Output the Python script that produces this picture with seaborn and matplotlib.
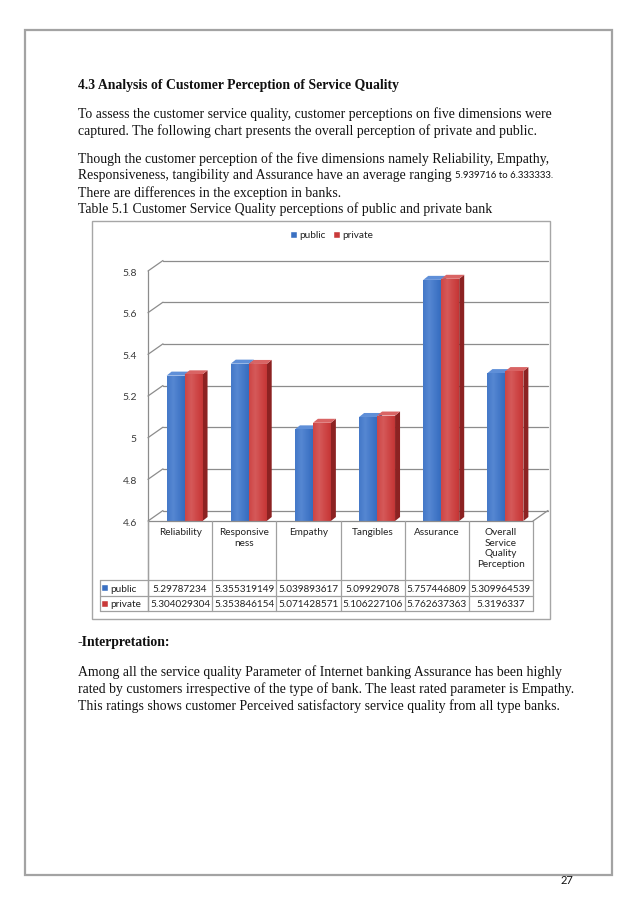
import numpy as np
import pandas as pd
import seaborn as sns
import matplotlib
matplotlib.use("Agg")
import matplotlib.pyplot as plt
from matplotlib.patches import Rectangle, Polygon
from matplotlib.lines import Line2D
from matplotlib.transforms import offset_copy, IdentityTransform

# ---------------- data ----------------
categories = ["Reliability", "Responsiveness", "Empathy", "Tangibles", "Assurance",
              "Overall Service Quality Perception"]
header_labels = ["Reliability", "Responsive\nness", "Empathy", "Tangibles", "Assurance",
                 "Overall\nService\nQuality\nPerception"]
public = [5.29787234, 5.355319149, 5.039893617, 5.09929078, 5.757446809, 5.309964539]
private = [5.304029304, 5.353846154, 5.071428571, 5.106227106, 5.762637363, 5.3196337]
series = ["public", "private"]
yticks = [4.6, 4.8, 5.0, 5.2, 5.4, 5.6, 5.8]
ytick_labels = ["4.6", "4.8", "5", "5.2", "5.4", "5.6", "5.8"]

heading = "4.3 Analysis of Customer Perception of Service Quality"
para1 = ["To assess the customer service quality, customer perceptions on five dimensions were",
         "captured. The following chart presents the overall perception of private and public."]
para2 = ["Though the customer perception of the five dimensions namely Reliability, Empathy,",
         "Responsiveness, tangibility and Assurance have an average ranging ",
         "There are differences in the exception in banks.",
         "Table 5.1 Customer Service Quality perceptions of public and private bank"]
range_text = "5.939716 to 6.333333."
interp_title = "-Interpretation:"
interp = ["Among all the service quality Parameter of Internet banking Assurance has been highly",
          "rated by customers irrespective of the type of bank. The least rated parameter is Empathy.",
          "This ratings shows customer Perceived satisfactory service quality from all type banks."]
page_no = "27"

df = pd.DataFrame({
    "category": categories * 2,
    "bank": ["public"] * 6 + ["private"] * 6,
    "value": public + private,
})

# ---------------- figure ----------------
W, H = 638, 903
sns.set_theme(style="white")
plt.rcParams['font.family'] = ['DejaVu Sans']
fig = plt.figure(figsize=(W / 100, H / 100), dpi=100)
fig.patch.set_facecolor("white")
renderer = fig.canvas.get_renderer()

def fx(x): return x / W
def fy(y): return 1 - y / H

def fline(xs, ys, color="#a0a0a0", lw=0.9, z=5):
    fig.add_artist(Line2D([fx(x) for x in xs], [fy(y) for y in ys],
                          transform=fig.transFigure, color=color, lw=lw, zorder=z))

BODY = "Liberation Serif"
SANS = "Lato"
TXT = "#111111"

# fit body size so the first line spans the measured width
t = fig.text(0, 0, para1[0], family=BODY, fontsize=10)
wid = t.get_window_extent(renderer).width
t.remove()
bfs = 10 * 472 / wid

def body(x, y, s, bold=False, fs=None, family=BODY):
    return fig.text(fx(x), fy(y), s, family=family, fontsize=fs or bfs,
                    fontweight="bold" if bold else "normal", color=TXT,
                    ha="left", va="center")

# page border
fig.add_artist(Rectangle((fx(25), fy(876)), fx(612) - fx(25), fy(31) - fy(876),
                         transform=fig.transFigure, fill=False, edgecolor="#a3a3a3", lw=1.6))

body(78, 85, heading, bold=True)
body(78, 114, para1[0])
body(78, 131, para1[1])
body(78, 159, para2[0])
tt = body(78, 176, para2[1])
ext = tt.get_window_extent(renderer)
fig.text(ext.x1 / fig.dpi / fig.get_figwidth(), fy(176), range_text, family=SANS,
         fontsize=bfs * 0.7, color=TXT, ha="left", va="center")
body(78, 193, para2[2])
body(78, 209, para2[3])
body(78, 643, interp_title, bold=True)
for i, line in enumerate(interp):
    body(78, 672 + 17 * i, line)
fig.text(fx(567), fy(881), page_no, family=SANS, fontsize=8, color=TXT, ha="center", va="center")

# chart box
fig.add_artist(Rectangle((fx(92), fy(620)), fx(550) - fx(92), fy(222) - fy(620),
                         transform=fig.transFigure, fill=False, edgecolor="#a6a6a6", lw=1.0))

# ---------------- chart ----------------
L, R, B, T = 148, 533, 522, 272
ax = fig.add_axes([fx(L), fy(B), (R - L) / W, (B - T) / H])
ax.set_facecolor("none")
colors = {"public": "#3a70c2", "private": "#c93a3a"}
side_col = {"public": "#244f93", "private": "#8c2222"}
top_col = {"public": "#5f8fd8", "private": "#d96464"}
sns.barplot(data=df, x="category", y="value", hue="bank", order=categories,
            hue_order=series, palette=colors, width=0.56, saturation=1,
            legend=False, ax=ax, zorder=3, linewidth=0)
ax.set_ylim(4.6, 5.8)
ax.set_xlim(-0.57, 5.43)
for s in ax.spines.values():
    s.set_visible(False)
ax.set_xticks([])
ax.set_xlabel("")
ax.set_ylabel("")
ax.set_yticks(yticks)
ax.set_yticklabels(ytick_labels, fontsize=7.5, color="#3a3a3a", family=SANS)
ax.tick_params(axis="y", length=0, pad=8)

DX, DY = 15, 10.5
grid_c = "#8c8c8c"
back = offset_copy(ax.get_yaxis_transform(), fig=fig, x=DX, y=DY, units="dots")
for v in yticks:
    ax.plot([0, 1], [v, v], transform=back, color=grid_c, lw=0.9, clip_on=False, zorder=0)
    p0 = ax.get_yaxis_transform().transform((0, v))
    ax.add_line(Line2D([p0[0], p0[0] + DX], [p0[1], p0[1] + DY], transform=IdentityTransform(),
                       color=grid_c, lw=0.9, zorder=0, clip_on=False))
p1 = ax.get_yaxis_transform().transform((1, 4.6))
ax.add_line(Line2D([p1[0], p1[0] + DX], [p1[1], p1[1] + DY], transform=IdentityTransform(),
                   color=grid_c, lw=0.9, zorder=0, clip_on=False))

# 3D faces of bars + light sheen on front faces
bdx, bdy = 5, 4
n = len(categories)
for i, p in enumerate(ax.patches[:2 * n]):
    key = series[i // n]
    x0, w, h = p.get_x(), p.get_width(), p.get_height()
    a = ax.transData.transform((x0, 4.6))
    b = ax.transData.transform((x0 + w, h))
    side = [(b[0], a[1]), (b[0], b[1]), (b[0] + bdx, b[1] + bdy), (b[0] + bdx, a[1] + bdy)]
    top = [(a[0], b[1]), (b[0], b[1]), (b[0] + bdx, b[1] + bdy), (a[0] + bdx, b[1] + bdy)]
    ax.add_patch(Polygon(side, closed=True, transform=IdentityTransform(),
                         facecolor=side_col[key], edgecolor="none", zorder=2, clip_on=False))
    ax.add_patch(Polygon(top, closed=True, transform=IdentityTransform(),
                         facecolor=top_col[key], edgecolor="none", zorder=2, clip_on=False))
    grad = np.linspace(0, 1, 64)
    shade = 1 - 0.5 * np.abs(grad - 0.35) / 0.65
    im = ax.imshow(shade[None, :], extent=(x0, x0 + w, 4.6, h), aspect="auto",
                   cmap=matplotlib.colors.LinearSegmentedColormap.from_list(
                       "g", [side_col[key], colors[key], top_col[key]]),
                   vmin=0, vmax=1.15, zorder=3.5, interpolation="bilinear")
    im.set_clip_path(p)
ax.set_xlim(-0.57, 5.43)
ax.set_ylim(4.6, 5.8)

fline([L, L], [T, 612], color=grid_c)
fline([L, R], [B, B], color=grid_c)

# ---------------- data table ----------------
tab_c = "#a0a0a0"
colw = (R - L) / n
for k in range(n + 1):
    xk = L + k * colw
    fline([xk, xk], [B, 612], color=tab_c)
fline([100, 100], [581, 612], color=tab_c)
for yy in [581, 597, 612]:
    fline([100, R], [yy, yy], color=tab_c)
for k, lab in enumerate(header_labels):
    fig.text(fx(L + (k + 0.5) * colw), fy(528), lab, family=SANS, fontsize=7.2,
             color="#222222", ha="center", va="top", linespacing=1.25)
for r, (name, vals) in enumerate(zip(series, [public, private])):
    yc = 589 + 16 * r
    fig.add_artist(Rectangle((fx(102), fy(yc + 3)), 6 / W, 6 / H, transform=fig.transFigure,
                             facecolor=colors[name], edgecolor="#ffffff", lw=0.3))
    fig.text(fx(110), fy(yc), name, family=SANS, fontsize=7.2, color="#222222",
             ha="left", va="center")
    for k, v in enumerate(vals):
        fig.text(fx(L + (k + 0.5) * colw), fy(yc), str(v), family=SANS, fontsize=7.2,
                 color="#222222", ha="center", va="center")

# legend
lx = 291
for name in series:
    fig.add_artist(Rectangle((fx(lx), fy(239)), 6 / W, 6 / H, transform=fig.transFigure,
                             facecolor=colors[name], edgecolor="#ffffff", lw=0.3))
    tl = fig.text(fx(lx + 8), fy(236), name, family=SANS, fontsize=7.2, color="#222222",
                  ha="left", va="center")
    lx = tl.get_window_extent(renderer).x1 + 9

fig.savefig("out.png", dpi=100, facecolor="white")
